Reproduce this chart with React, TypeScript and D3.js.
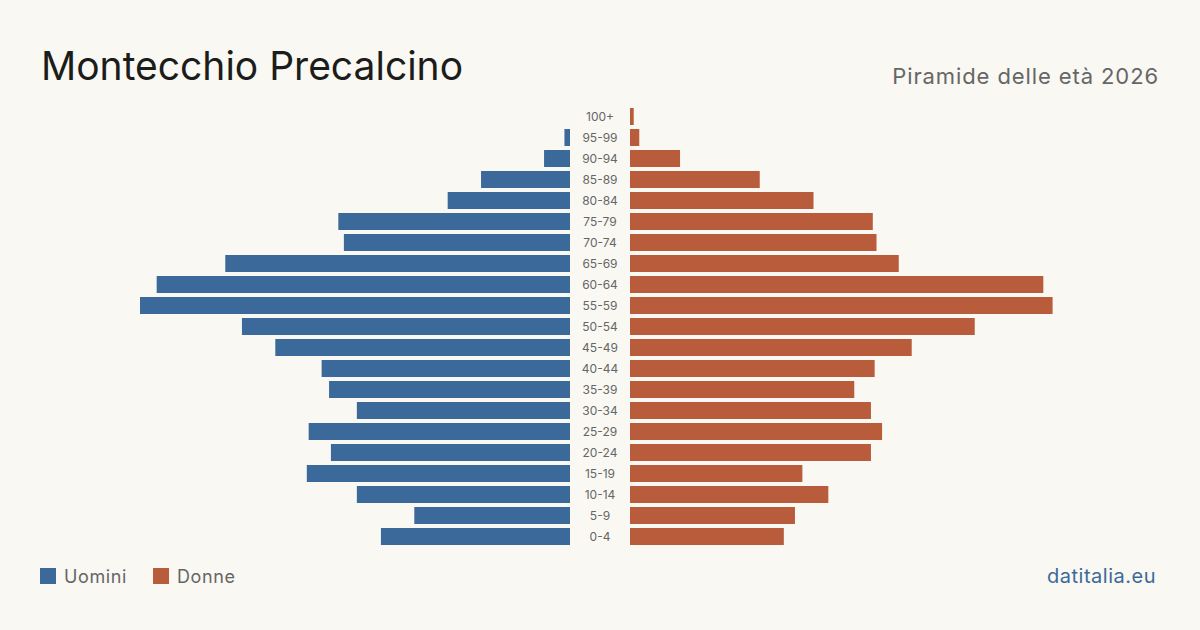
import { useRef, useEffect } from 'react';
import * as d3 from 'd3';

const ageGroups = ['100+', '95-99', '90-94', '85-89', '80-84', '75-79', '70-74', '65-69', '60-64', '55-59', '50-54',
  '45-49', '40-44', '35-39', '30-34', '25-29', '20-24', '15-19', '10-14', '5-9', '0-4'];
const maleValues = [0, 3, 14, 48, 66, 125, 122, 186, 223, 232, 177, 159, 134, 130, 115, 141, 129, 142, 115, 84, 102];
const femaleValues = [2, 5, 27, 70, 99, 131, 133, 145, 223, 228, 186, 152, 132, 121, 130, 136, 130, 93, 107, 89, 83];
const legendLabels = ['Uomini', 'Donne'];

const W = 1200;
const H = 630;
const BLUE = '#3b6a9a';
const RED = '#b95c3c';
const FONT = 'Inter, "Noto Sans", sans-serif';

const App = () => {
  const svgRef = useRef<SVGSVGElement>(null);

  useEffect(() => {
    const svg = d3.select(svgRef.current);
    svg.selectAll('*').remove();

    svg.append('rect').attr('width', W).attr('height', H).attr('fill', '#f9f8f3');

    const y = d3.scaleBand<string>()
      .domain(ageGroups)
      .range([106, 547])
      .paddingInner(4 / 21)
      .paddingOuter(2 / 21);

    const maxVal = d3.max([...maleValues, ...femaleValues]) as number;
    const xMale = d3.scaleLinear().domain([0, maxVal]).range([570, 140]);
    const xFemale = d3.scaleLinear().domain([0, maxVal]).range([630, 1060]);

    svg.append('g')
      .selectAll('rect')
      .data(maleValues)
      .join('rect')
      .attr('x', d => xMale(d))
      .attr('y', (_, i) => y(ageGroups[i]) as number)
      .attr('width', d => 570 - xMale(d))
      .attr('height', y.bandwidth())
      .attr('fill', BLUE);

    svg.append('g')
      .selectAll('rect')
      .data(femaleValues)
      .join('rect')
      .attr('x', 630)
      .attr('y', (_, i) => y(ageGroups[i]) as number)
      .attr('width', d => xFemale(d) - 630)
      .attr('height', y.bandwidth())
      .attr('fill', RED);

    svg.append('g')
      .selectAll('text')
      .data(ageGroups)
      .join('text')
      .attr('x', 600)
      .attr('y', d => (y(d) as number) + y.bandwidth() / 2)
      .attr('dy', '0.35em')
      .attr('text-anchor', 'middle')
      .attr('font-family', FONT)
      .attr('font-size', 12)
      .attr('fill', '#666')
      .text(d => d);

    svg.append('text')
      .attr('x', 41)
      .attr('y', 80)
      .attr('font-family', FONT)
      .attr('font-size', 39)
      .attr('fill', '#1c1c1a')
      .text('Montecchio Precalcino');

    svg.append('text')
      .attr('x', 1159)
      .attr('y', 84)
      .attr('text-anchor', 'end')
      .attr('font-family', FONT)
      .attr('font-size', 22)
      .attr('letter-spacing', 0.9)
      .attr('fill', '#666')
      .text('Piramide delle età 2026');

    const legend = svg.append('g');
    const lx = [40, 153];
    legendLabels.forEach((lab, i) => {
      legend.append('rect')
        .attr('x', lx[i]).attr('y', 568).attr('width', 16).attr('height', 16)
        .attr('fill', i === 0 ? BLUE : RED);
      legend.append('text')
        .attr('x', lx[i] + 24).attr('y', 583)
        .attr('font-family', FONT).attr('font-size', 18).attr('letter-spacing', 0.6).attr('fill', '#666')
        .text(lab);
    });

    svg.append('text')
      .attr('x', 1156)
      .attr('y', 583)
      .attr('text-anchor', 'end')
      .attr('font-family', FONT)
      .attr('font-size', 20)
      .attr('letter-spacing', 0.5)
      .attr('fill', BLUE)
      .text('datitalia.eu');
  }, []);

  return <svg ref={svgRef} width={W} height={H} style={{ display: 'block', position: 'absolute', left: 0, top: 0 }}></svg>;
};

export default App;
